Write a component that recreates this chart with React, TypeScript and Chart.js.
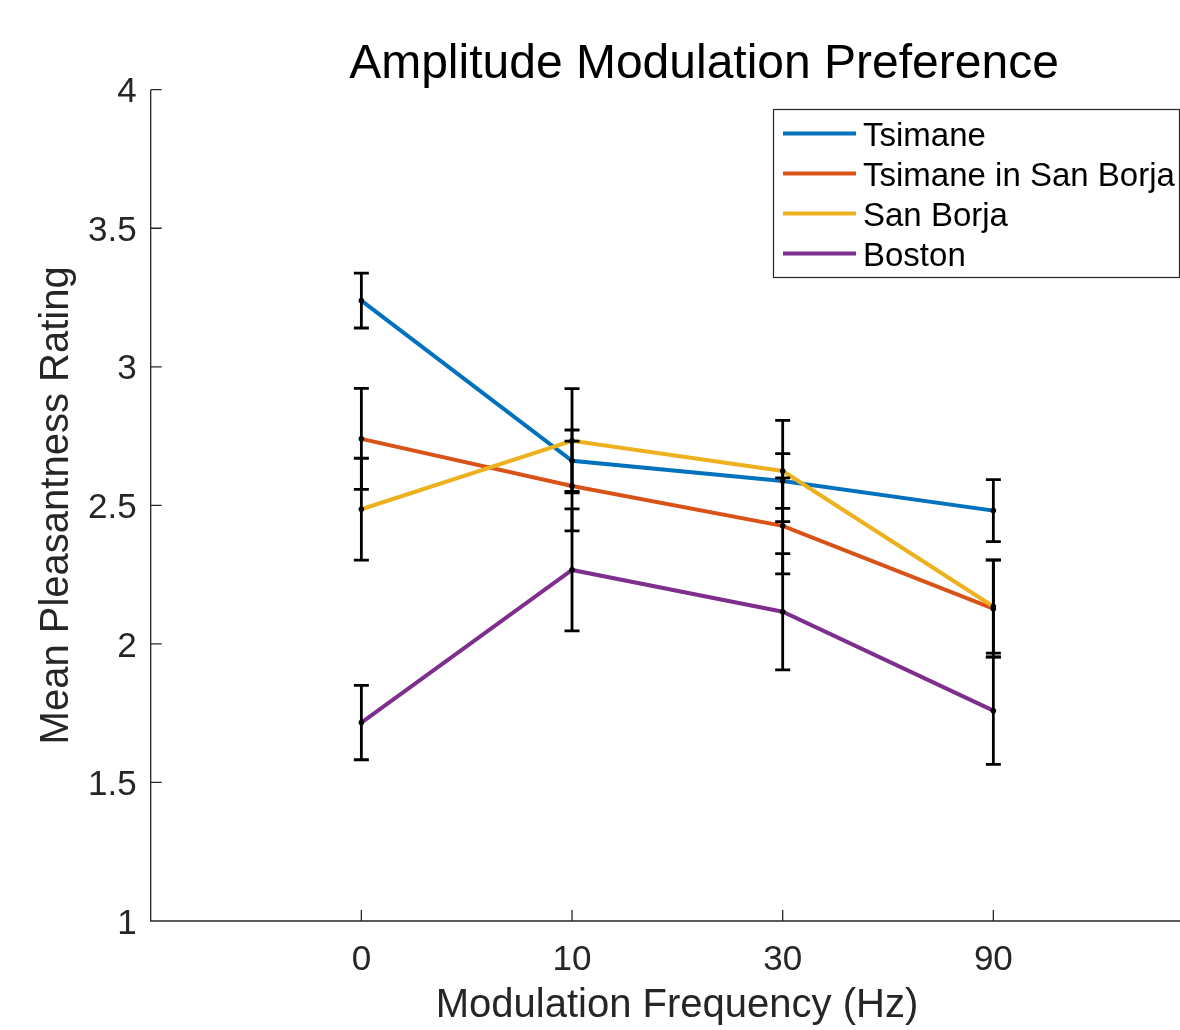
import React, { useEffect, useRef } from "react";
import { Chart, registerables } from "chart.js";

Chart.register(...registerables);

// ---- data ----
const freqLabels = ["0", "10", "30", "90"];
const freqPositions = [0, 1, 2, 3];
const yTickValues = [1, 1.5, 2, 2.5, 3, 3.5, 4];
const seriesNames = ["Tsimane", "Tsimane in San Borja", "San Borja", "Boston"];
const seriesColors = ["#0072BD", "#D95319", "#EDB120", "#7E2F8E"];

const tsimaneMean = [3.239, 2.661, 2.588, 2.481];
const tsimaneErr = [0.099, 0.111, 0.099, 0.112];
const tsimaneSanBorjaMean = [2.74, 2.57, 2.426, 2.127];
const tsimaneSanBorjaErr = [0.182, 0.162, 0.173, 0.175];
const sanBorjaMean = [2.486, 2.733, 2.624, 2.135];
const sanBorjaErr = [0.184, 0.188, 0.183, 0.168];
const bostonMean = [1.716, 2.267, 2.116, 1.759];
const bostonErr = [0.134, 0.22, 0.21, 0.194];

const allMeans = [tsimaneMean, tsimaneSanBorjaMean, sanBorjaMean, bostonMean];
const allErrs = [tsimaneErr, tsimaneSanBorjaErr, sanBorjaErr, bostonErr];

const titleText = "Amplitude Modulation Preference";
const xTitle = "Modulation Frequency (Hz)";
const yTitle = "Mean Pleasantness Rating";

const FONT = "'Liberation Sans', Arial, Helvetica, sans-serif";
const AXIS_COLOR = "#262626";

const overlayPlugin = {
  id: "overlay",
  beforeDatasetsDraw(chart: any) {
    const ctx = chart.ctx;
    const xs = chart.scales.x;
    const ys = chart.scales.y;
    const ca = chart.chartArea;
    ctx.save();
    ctx.strokeStyle = AXIS_COLOR;
    ctx.lineWidth = 1.3;
    ctx.beginPath();
    ctx.moveTo(ca.left, ca.top);
    ctx.lineTo(ca.left, ca.bottom);
    ctx.lineTo(ca.right, ca.bottom);
    yTickValues.forEach((v) => {
      const py = ys.getPixelForValue(v);
      ctx.moveTo(ca.left, py);
      ctx.lineTo(ca.left + 11, py);
    });
    freqPositions.forEach((v) => {
      const px = xs.getPixelForValue(v);
      ctx.moveTo(px, ca.bottom);
      ctx.lineTo(px, ca.bottom - 11);
    });
    ctx.stroke();
    ctx.restore();
  },
  afterDatasetsDraw(chart: any) {
    const ctx = chart.ctx;
    const xs = chart.scales.x;
    const ys = chart.scales.y;
    ctx.save();
    allMeans.forEach((means, s) => {
      means.forEach((v, i) => {
        const px = xs.getPixelForValue(freqPositions[i]);
        const top = ys.getPixelForValue(v + allErrs[s][i]);
        const bot = ys.getPixelForValue(v - allErrs[s][i]);
        ctx.strokeStyle = "#000";
        ctx.lineWidth = 2.8;
        ctx.beginPath();
        ctx.moveTo(px, top);
        ctx.lineTo(px, bot);
        ctx.moveTo(px - 7.5, top);
        ctx.lineTo(px + 7.5, top);
        ctx.moveTo(px - 7.5, bot);
        ctx.lineTo(px + 7.5, bot);
        ctx.stroke();
        ctx.beginPath();
        ctx.arc(px, ys.getPixelForValue(v), 2.8, 0, Math.PI * 2);
        ctx.fillStyle = "#000";
        ctx.fill();
      });
    });
    ctx.restore();
  },
  afterDraw(chart: any) {
    const ctx = chart.ctx;
    const ca = chart.chartArea;
    ctx.save();
    ctx.fillStyle = "#000";
    ctx.font = `48px ${FONT}`;
    ctx.textAlign = "center";
    ctx.textBaseline = "alphabetic";
    ctx.fillText(titleText, 704, 78);
    ctx.fillStyle = AXIS_COLOR;
    ctx.font = `40px ${FONT}`;
    ctx.fillText(xTitle, 677, 1017);
    ctx.save();
    ctx.translate(68, (ca.top + ca.bottom) / 2);
    ctx.rotate(-Math.PI / 2);
    ctx.fillText(yTitle, 0, 0);
    ctx.restore();
    const lx = 773.5, ly = 109.5, lw = 406, lh = 168;
    ctx.fillStyle = "#fff";
    ctx.fillRect(lx, ly, lw, lh);
    ctx.strokeStyle = "#262626";
    ctx.lineWidth = 1.2;
    ctx.strokeRect(lx, ly, lw, lh);
    ctx.font = `33px ${FONT}`;
    ctx.textAlign = "left";
    ctx.textBaseline = "alphabetic";
    seriesNames.forEach((name, i) => {
      const ry = 133.5 + i * 40;
      ctx.strokeStyle = seriesColors[i];
      ctx.lineWidth = 4;
      ctx.beginPath();
      ctx.moveTo(783, ry);
      ctx.lineTo(856, ry);
      ctx.stroke();
      ctx.fillStyle = "#000";
      ctx.fillText(name, 863, ry + 12);
    });
    ctx.restore();
  },
};

export default function App() {
  const canvasRef = useRef<HTMLCanvasElement | null>(null);

  useEffect(() => {
    if (!canvasRef.current) return;
    const datasets = allMeans.map((means, s) => ({
      label: seriesNames[s],
      data: means.map((v, i) => ({ x: freqPositions[i], y: v })),
      borderColor: seriesColors[s],
      backgroundColor: seriesColors[s],
      borderWidth: 4,
      pointRadius: 0,
      tension: 0,
      order: allMeans.length - s,
    }));
    const chart = new Chart(canvasRef.current, {
      type: "line",
      data: { datasets },
      plugins: [overlayPlugin],
      options: {
        animation: false,
        responsive: false,
        devicePixelRatio: 1,
        layout: { padding: { top: 89.7, left: 0, right: 0, bottom: 0 } },
        plugins: { legend: { display: false }, tooltip: { enabled: false }, title: { display: false } },
        scales: {
          x: {
            type: "linear",
            min: -1,
            max: 3.886,
            grid: { display: false, drawTicks: false },
            border: { display: false },
            afterBuildTicks: (scale: any) => {
              scale.ticks = freqPositions.map((v) => ({ value: v }));
            },
            afterFit: (scale: any) => {
              scale.height = 109;
            },
            ticks: {
              padding: 18.5,
              color: AXIS_COLOR,
              font: { size: 35, family: FONT },
              maxRotation: 0,
              autoSkip: false,
              callback: (_v: any, idx: number) => freqLabels[idx],
            },
          },
          y: {
            type: "linear",
            min: 1,
            max: 4,
            grid: { display: false, drawTicks: false },
            border: { display: false },
            afterBuildTicks: (scale: any) => {
              scale.ticks = yTickValues.map((v) => ({ value: v }));
            },
            afterFit: (scale: any) => {
              scale.width = 150.7;
            },
            ticks: {
              padding: 14,
              labelOffset: 3,
              color: AXIS_COLOR,
              font: { size: 35, family: FONT },
              callback: (v: any) => String(v),
            },
          },
        },
      },
    });
    return () => chart.destroy();
  }, []);

  return (
    <div style={{ position: "fixed", left: 0, top: 0, width: 1180, height: 1030, background: "#fff" }}>
      <canvas ref={canvasRef} width={1180} height={1030} style={{ width: 1180, height: 1030 }} />
    </div>
  );
}
